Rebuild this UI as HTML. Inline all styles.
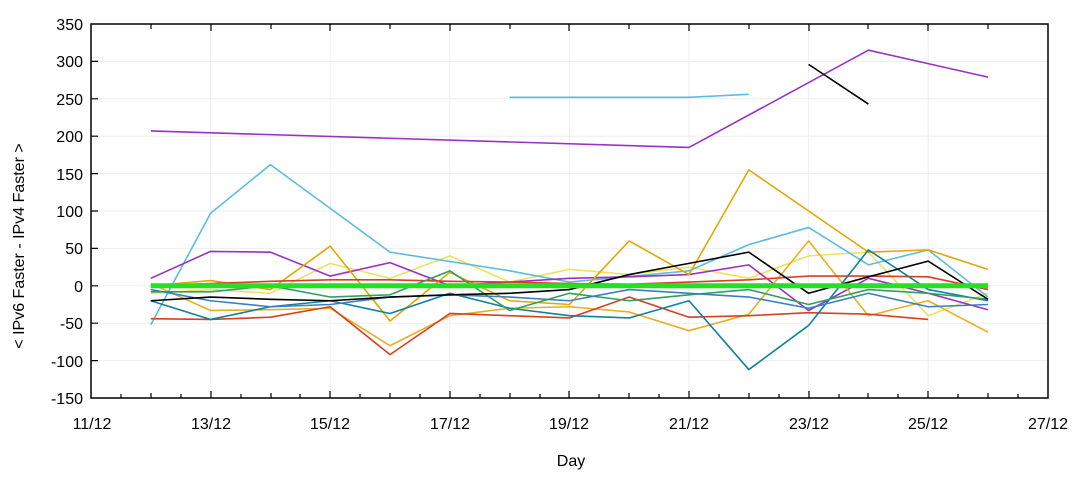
<!DOCTYPE html>
<html><head><meta charset="utf-8"><style>
body{margin:0;background:#fff;}
svg{display:block;font-family:"Liberation Sans",sans-serif;}
</style></head><body>
<svg width="1080" height="480" viewBox="0 0 1080 480">
<g stroke="#eee" stroke-width="1">
<line x1="91" x2="1048" y1="61.4" y2="61.4"/><line x1="91" x2="1048" y1="98.8" y2="98.8"/><line x1="91" x2="1048" y1="136.2" y2="136.2"/><line x1="91" x2="1048" y1="173.6" y2="173.6"/><line x1="91" x2="1048" y1="211" y2="211"/><line x1="91" x2="1048" y1="248.4" y2="248.4"/><line x1="91" x2="1048" y1="285.8" y2="285.8"/><line x1="91" x2="1048" y1="323.2" y2="323.2"/><line x1="91" x2="1048" y1="360.6" y2="360.6"/>
<line y1="24" y2="398" x1="210.6" x2="210.6"/><line y1="24" y2="398" x1="330.2" x2="330.2"/><line y1="24" y2="398" x1="449.8" x2="449.8"/><line y1="24" y2="398" x1="569.4" x2="569.4"/><line y1="24" y2="398" x1="689" x2="689"/><line y1="24" y2="398" x1="808.6" x2="808.6"/><line y1="24" y2="398" x1="928.2" x2="928.2"/>
</g>
<g transform="translate(91,285.8) scale(59.8,-0.748)" fill="none" stroke-width="1.6" stroke-linejoin="round">
<polyline vector-effect="non-scaling-stroke" stroke="#9b30c8" points="1,207 10,185 13,315 15,279"/>
<polyline vector-effect="non-scaling-stroke" stroke="#5bbde0" points="7,252 10,252 11,256"/>
<polyline vector-effect="non-scaling-stroke" stroke="#000" points="12,296 13,243"/>
<polyline vector-effect="non-scaling-stroke" stroke="#f0e060" points="1,-10 2,-5 3,-10 4,30 5,10 6,40 7,5 8,22 9,15 10,25 11,10 12,40 13,45 14,-40 15,-10"/>
<polyline vector-effect="non-scaling-stroke" stroke="#5bbde0" points="1,-52 2,97 3,162 5,45 7,20 8,5 10,20 11,55 12,78 13,28 14,48 15,-15"/>
<polyline vector-effect="non-scaling-stroke" stroke="#9b30c8" points="1,10 2,46 3,45 4,13 5,31 6,0 7,5 8,10 9,12 10,15 11,28 12,-33 13,10 14,-10 15,-32"/>
<polyline vector-effect="non-scaling-stroke" stroke="#e0a800" points="1,0 2,7 3,-5 4,53 5,-47 6,18 7,-20 8,-25 9,60 10,15 11,155 12,100 13,45 14,48 15,22"/>
<polyline vector-effect="non-scaling-stroke" stroke="#e8b020" points="1,3 2,-33 3,-32 4,-30 5,-80 6,-40 7,-30 8,-28 9,-35 10,-60 11,-38 12,60 13,-40 14,-20 15,-62"/>
<polyline vector-effect="non-scaling-stroke" stroke="#d84020" points="1,-44 2,-45 3,-42 4,-28 5,-92 6,-37 7,-40 8,-43 9,-15 10,-42 11,-40 12,-36 13,-38 14,-45"/>
<polyline vector-effect="non-scaling-stroke" stroke="#d84020" points="1,0 2,3 3,6 4,8 5,8 6,6 7,5 8,3 9,2 10,5 11,8 12,13 13,13 14,12 15,-5"/>
<polyline vector-effect="non-scaling-stroke" stroke="#1080a0" points="1,-20 2,-45 3,-28 4,-20 5,-37 6,-10 7,-30 8,-40 9,-43 10,-20 11,-112 12,-53 13,48 14,-5 15,-20"/>
<polyline vector-effect="non-scaling-stroke" stroke="#30a060" points="1,-8 2,-8 3,0 4,-15 5,-12 6,20 7,-33 8,-10 9,-20 10,-12 11,-5 12,-25 13,-5 14,-10 15,-18"/>
<polyline vector-effect="non-scaling-stroke" stroke="#3a80c0" points="1,-5 2,-20 3,-28 4,-25 5,-15 6,-12 7,-15 8,-20 9,-5 10,-10 11,-15 12,-30 13,-10 14,-28 15,-25"/>
<polyline vector-effect="non-scaling-stroke" stroke="#000" points="1,-20 2,-15 3,-18 4,-20 5,-15 6,-12 7,-10 8,-5 9,15 10,30 11,45 12,-10 13,12 14,33 15,-18"/>
<polyline vector-effect="non-scaling-stroke" stroke="#22e022" stroke-width="5" points="1,0 15,0"/>
</g>
<rect x="91" y="24" width="957" height="374" fill="none" stroke="#000" stroke-width="1.5"/>
<g stroke="#000" stroke-width="1.2">
<path d="M121,398v-4M151,398v-5M181,398v-4M211,398v-7M241,398v-4M271,398v-5M300,398v-4M330,398v-7M360,398v-4M390,398v-5M420,398v-4M450,398v-7M480,398v-4M510,398v-5M540,398v-4M569,398v-7M599,398v-4M629,398v-5M659,398v-4M689,398v-7M719,398v-4M749,398v-5M779,398v-4M809,398v-7M839,398v-4M868,398v-5M898,398v-4M928,398v-7M958,398v-4M988,398v-5M1018,398v-4"/>
<path d="M91,61.4h7M91,98.8h7M91,136.2h7M91,173.6h7M91,211h7M91,248.4h7M91,285.8h7M91,323.2h7M91,360.6h7"/>
<path d="M211,24v7M330,24v7M450,24v7M569,24v7M689,24v7M809,24v7M928,24v7M151,24v5M271,24v5M390,24v5M510,24v5M629,24v5M749,24v5M868,24v5M988,24v5"/>
</g>
<g font-size="16" text-anchor="end">
<text x="83" y="30">350</text><text x="83" y="67">300</text><text x="83" y="105">250</text><text x="83" y="142">200</text><text x="83" y="180">150</text><text x="83" y="217">100</text><text x="83" y="254">50</text><text x="83" y="292">0</text><text x="83" y="329">-50</text><text x="83" y="367">-100</text><text x="83" y="404">-150</text>
</g>
<g font-size="16" text-anchor="middle">
<text x="92" y="429">11/12</text><text x="211" y="429">13/12</text><text x="330" y="429">15/12</text><text x="450" y="429">17/12</text><text x="569" y="429">19/12</text><text x="689" y="429">21/12</text><text x="809" y="429">23/12</text><text x="928" y="429">25/12</text><text x="1048" y="429">27/12</text>
<text x="571" y="466">Day</text>
<text transform="translate(24,246) rotate(-90)">&lt; IPv6 Faster - IPv4 Faster &gt;</text>
</g>
</svg>
</body></html>
